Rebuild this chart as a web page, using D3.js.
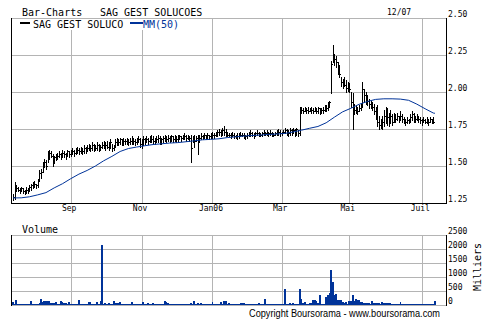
<!DOCTYPE html>
<html>
<head>
<meta charset="utf-8">
<script src="https://cdn.jsdelivr.net/npm/d3@7"></script>
<style>
  body { margin: 0; background: #fff; }
  svg { display: block; }
</style>
</head>
<body>
<svg width="490" height="325"></svg>
<script>
// one bar per trading day, 13/07/2005 -> 12/07/2006 (Euronext closed days left out)
const firstDay = "2005-07-13", lastDay = "2006-07-12";
const holidays = ["2005-12-26", "2006-04-14", "2006-04-17", "2006-05-01"];

const monthTicks = ["2005-09", "2005-11", "2006-01", "2006-03", "2006-05", "2006-07"];
const monthLabels = ["Sep", "Nov", "Jan06", "Mar", "Mai", "Juil"];
const priceTicks = [1.25, 1.5, 1.75, 2.0, 2.25, 2.5];
const volTicks = [0, 500, 1000, 1500, 2000, 2500];

const high = [
	1.31,1.39,1.37,1.36,1.35,1.36,1.35,1.34,1.36,1.35,
	1.37,1.38,1.39,1.40,1.38,1.41,1.47,1.48,1.53,1.55,
	1.54,1.60,1.61,1.60,1.58,1.57,1.58,1.59,1.60,1.59,
	1.61,1.60,1.59,1.61,1.60,1.61,1.62,1.61,1.62,1.63,
	1.62,1.63,1.62,1.64,1.63,1.64,1.65,1.64,1.66,1.65,
	1.64,1.66,1.65,1.64,1.66,1.67,1.66,1.67,1.66,1.68,
	1.65,1.64,1.68,1.69,1.68,1.69,1.68,1.69,1.68,1.69,
	1.68,1.69,1.70,1.69,1.68,1.69,1.70,1.69,1.68,1.70,
	1.69,1.70,1.69,1.70,1.71,1.70,1.69,1.70,1.71,1.70,
	1.69,1.70,1.71,1.70,1.71,1.70,1.71,1.70,1.71,1.70,
	1.71,1.71,1.70,1.71,1.72,1.71,1.71,1.70,1.71,1.70,
	1.71,1.70,1.71,1.71,1.72,1.71,1.72,1.71,1.72,1.71,
	1.72,1.73,1.72,1.73,1.74,1.75,1.74,1.76,1.77,1.75,
	1.73,1.72,1.72,1.73,1.72,1.71,1.72,1.72,1.73,1.72,
	1.72,1.71,1.72,1.73,1.74,1.73,1.72,1.73,1.74,1.73,
	1.72,1.73,1.74,1.73,1.74,1.73,1.74,1.73,1.72,1.73,
	1.74,1.75,1.74,1.73,1.74,1.76,1.75,1.74,1.76,1.75,
	1.76,1.75,1.76,1.74,1.90,1.90,1.89,1.90,1.89,1.90,
	1.89,1.90,1.89,1.90,1.89,1.90,1.89,1.89,1.90,1.91,
	1.91,1.93,1.94,2.21,2.32,2.26,2.24,2.20,2.18,2.10,
	2.09,2.10,2.08,2.07,2.06,2.00,1.99,1.92,1.91,1.90,
	1.91,1.92,2.07,2.02,2.00,1.98,1.95,1.94,1.93,1.92,
	1.90,1.91,1.84,1.82,1.84,1.88,1.90,1.89,1.86,1.88,
	1.85,1.86,1.85,1.86,1.84,1.87,1.85,1.83,1.82,1.83,
	1.82,1.85,1.87,1.86,1.84,1.85,1.84,1.83,1.82,1.83,
	1.82,1.83,1.82,1.83,1.82,1.83,1.80
];
const low = [
	1.27,1.28,1.33,1.33,1.32,1.33,1.32,1.31,1.32,1.32,
	1.33,1.34,1.35,1.36,1.35,1.36,1.40,1.42,1.46,1.49,
	1.48,1.53,1.55,1.56,1.50,1.52,1.54,1.55,1.56,1.55,
	1.56,1.56,1.55,1.57,1.56,1.57,1.58,1.57,1.58,1.59,
	1.58,1.59,1.58,1.59,1.59,1.60,1.61,1.60,1.61,1.60,
	1.61,1.61,1.60,1.61,1.62,1.62,1.61,1.62,1.61,1.62,
	1.60,1.61,1.63,1.64,1.64,1.65,1.64,1.64,1.65,1.65,
	1.64,1.65,1.65,1.65,1.64,1.65,1.66,1.63,1.62,1.65,
	1.65,1.66,1.65,1.66,1.66,1.65,1.65,1.66,1.66,1.65,
	1.65,1.66,1.67,1.66,1.67,1.66,1.67,1.66,1.67,1.66,
	1.67,1.68,1.67,1.68,1.68,1.67,1.68,1.67,1.53,1.66,
	1.63,1.67,1.58,1.66,1.68,1.68,1.69,1.68,1.69,1.68,
	1.69,1.69,1.69,1.70,1.70,1.71,1.70,1.71,1.71,1.70,
	1.70,1.70,1.69,1.70,1.69,1.69,1.68,1.69,1.70,1.70,
	1.69,1.68,1.69,1.70,1.70,1.70,1.69,1.70,1.71,1.70,
	1.70,1.70,1.71,1.71,1.71,1.70,1.71,1.70,1.70,1.71,
	1.71,1.71,1.70,1.71,1.72,1.72,1.71,1.70,1.71,1.71,
	1.72,1.70,1.71,1.70,1.71,1.86,1.86,1.87,1.86,1.86,
	1.87,1.86,1.86,1.87,1.86,1.86,1.85,1.86,1.86,1.87,
	1.87,1.88,1.90,1.99,2.20,2.18,2.17,2.12,2.10,2.04,
	2.03,2.04,2.00,2.01,2.00,1.90,1.75,1.85,1.86,1.85,
	1.87,1.88,1.90,1.93,1.92,1.91,1.89,1.89,1.88,1.85,
	1.82,1.77,1.75,1.76,1.75,1.77,1.79,1.78,1.77,1.79,
	1.78,1.80,1.80,1.81,1.80,1.81,1.80,1.79,1.78,1.79,
	1.79,1.80,1.81,1.80,1.80,1.81,1.80,1.79,1.78,1.80,
	1.79,1.79,1.78,1.80,1.79,1.79,1.74
];
const close = [
	1.29,1.36,1.35,1.34,1.33,1.35,1.33,1.33,1.34,1.33,
	1.36,1.37,1.36,1.38,1.37,1.40,1.45,1.46,1.52,1.53,
	1.50,1.58,1.59,1.57,1.53,1.56,1.57,1.57,1.58,1.57,
	1.59,1.58,1.57,1.60,1.58,1.59,1.60,1.59,1.61,1.61,
	1.60,1.62,1.60,1.62,1.61,1.62,1.63,1.62,1.64,1.63,
	1.62,1.64,1.62,1.63,1.64,1.65,1.64,1.63,1.64,1.66,
	1.62,1.63,1.66,1.67,1.66,1.68,1.66,1.67,1.67,1.68,
	1.66,1.67,1.68,1.67,1.66,1.68,1.68,1.65,1.64,1.68,
	1.67,1.68,1.67,1.69,1.68,1.67,1.68,1.68,1.69,1.67,
	1.68,1.69,1.69,1.68,1.69,1.68,1.70,1.68,1.69,1.68,
	1.69,1.70,1.69,1.70,1.70,1.69,1.70,1.69,1.62,1.68,
	1.67,1.69,1.66,1.69,1.70,1.70,1.71,1.70,1.71,1.70,
	1.71,1.71,1.71,1.72,1.73,1.73,1.72,1.74,1.73,1.72,
	1.71,1.71,1.70,1.71,1.70,1.70,1.70,1.71,1.71,1.71,
	1.70,1.70,1.71,1.72,1.72,1.71,1.71,1.72,1.72,1.71,
	1.71,1.72,1.73,1.72,1.73,1.72,1.72,1.71,1.71,1.72,
	1.73,1.73,1.72,1.72,1.73,1.74,1.73,1.72,1.74,1.73,
	1.74,1.72,1.75,1.72,1.88,1.88,1.87,1.88,1.88,1.87,
	1.88,1.88,1.87,1.88,1.87,1.89,1.87,1.88,1.88,1.89,
	1.89,1.92,1.93,2.19,2.25,2.22,2.20,2.14,2.12,2.07,
	2.06,2.05,2.03,2.04,2.02,1.93,1.90,1.88,1.89,1.87,
	1.89,1.90,2.02,1.98,1.95,1.94,1.92,1.91,1.90,1.87,
	1.84,1.80,1.78,1.79,1.80,1.84,1.85,1.83,1.81,1.84,
	1.80,1.83,1.82,1.84,1.82,1.84,1.82,1.81,1.80,1.81,
	1.80,1.83,1.85,1.83,1.82,1.83,1.82,1.81,1.80,1.81,
	1.80,1.81,1.80,1.82,1.81,1.80,1.76
];
// volume, thousands of shares
const volume = [
	95,40,180,40,35,35,35,30,35,35,
	40,145,35,30,35,35,85,215,120,145,
	130,145,140,70,60,70,110,40,40,145,
	120,80,70,40,110,40,30,30,35,35,
	180,50,45,40,35,35,110,110,35,30,
	35,95,35,145,2150,35,60,35,55,35,
	35,145,80,70,70,110,40,30,30,30,
	30,35,110,35,25,25,25,25,30,110,
	50,30,70,30,30,70,30,30,30,30,
	30,30,145,110,70,30,30,30,30,30,
	30,15,15,15,15,30,35,40,70,40,
	145,40,70,30,70,35,30,30,30,30,
	30,110,35,30,30,30,95,35,130,130,
	40,70,30,30,30,30,30,30,70,70,
	70,30,25,25,20,20,20,20,20,70,
	20,20,20,215,20,15,15,15,15,15,
	15,15,15,15,15,575,20,20,70,20,
	70,20,20,20,575,215,70,95,45,45,
	70,70,180,180,145,70,340,20,20,20,
	300,360,420,1260,830,360,385,180,180,180,
	110,70,110,40,145,145,340,145,215,180,
	180,110,95,55,70,70,70,45,145,70,
	70,70,70,45,110,70,70,70,55,70,
	30,30,30,30,30,110,30,25,25,25,
	25,25,25,25,25,25,25,25,25,25,
	25,25,25,25,25,25,145
];
// MM(50), every 5th session
const maDay = [0,5,10,15,20,25,30,35,40,45,50,55,60,65,70,75,80,85,90,95,100,
	105,110,115,120,125,130,135,140,145,150,155,160,165,170,175,180,185,190,195,
	200,205,210,215,220,225,230,235,240,245,250,255,256];
const maValue = [1.284,1.285,1.292,1.305,1.32,1.352,1.38,1.414,1.445,1.47,1.50,
	1.535,1.565,1.598,1.618,1.628,1.637,1.645,1.65,1.655,1.658,1.664,1.67,1.677,
	1.68,1.684,1.692,1.697,1.702,1.706,1.709,1.713,1.716,1.72,1.73,1.742,1.755,
	1.767,1.792,1.83,1.866,1.89,1.917,1.936,1.95,1.954,1.954,1.952,1.944,1.918,
	1.887,1.858,1.856];

const svg = d3.select("svg");
const L = 11, R = 446, PT = 18, PB = 203, VT = 235, VB = 305;
const blue = "#003399", grid = "#b4b4b4";
const mono = "DejaVu Sans Mono, monospace";

const fmt = d3.timeFormat("%Y-%m-%d");
const days = d3.timeDay.range(new Date(firstDay + "T12:00"), new Date(lastDay + "T13:00"))
	.filter(d => d.getDay() > 0 && d.getDay() < 6 && !holidays.includes(fmt(d)));
const tickIdx = monthTicks.map(m => days.findIndex(d => fmt(d).startsWith(m)));

const x = d3.scaleLinear().domain([-1.2, 262.7]).range([L, R]);
const y = d3.scaleLinear().domain([1.25, 2.5]).range([PB, PT]);
const yv = d3.scaleLinear().domain([0, 2500]).range([VB, VT]);
const px = i => Math.round(x(i)) + 0.5;

svg.append("rect").attr("width", 490).attr("height", 325).attr("fill", "#fff");

// gridlines
const g = svg.append("g").attr("stroke", grid).attr("shape-rendering", "crispEdges");
g.selectAll(".hp").data(priceTicks).join("line")
	.attr("x1", L).attr("x2", R)
	.attr("y1", d => Math.round(y(d)) + 0.5).attr("y2", d => Math.round(y(d)) + 0.5);
g.selectAll(".hv").data(volTicks).join("line")
	.attr("x1", L).attr("x2", R)
	.attr("y1", d => Math.round(yv(d)) + 0.5).attr("y2", d => Math.round(yv(d)) + 0.5);
tickIdx.forEach(i => {
	g.append("line").attr("x1", px(i)).attr("x2", px(i)).attr("y1", PT).attr("y2", PB);
	g.append("line").attr("x1", px(i)).attr("x2", px(i)).attr("y1", VT).attr("y2", VB);
});

// legend box hides the grid under it
svg.append("rect").attr("x", L + 1).attr("y", PT + 1).attr("width", 200).attr("height", 11).attr("fill", "#fff");

// price bars: high-low stroke with a one pixel close tick
const bars = svg.append("g").attr("stroke", "#000").attr("shape-rendering", "crispEdges");
days.forEach((d, i) => {
	bars.append("line").attr("x1", px(i)).attr("x2", px(i))
		.attr("y1", y(high[i])).attr("y2", y(low[i]) + 1);
	const yc = Math.round(y(close[i])) + 0.5;
	bars.append("line").attr("x1", px(i) + 0.5).attr("x2", px(i) + 1.5)
		.attr("y1", yc).attr("y2", yc);
});

// MM(50)
svg.append("path")
	.datum(maDay.map((d, k) => [d, maValue[k]]))
	.attr("fill", "none").attr("stroke", blue).attr("stroke-width", 1)
	.attr("d", d3.line().x(d => x(d[0])).y(d => y(d[1])));

// volume bars
const step = x(1) - x(0);
svg.append("g").attr("fill", blue).attr("shape-rendering", "crispEdges")
	.selectAll("rect").data(volume).join("rect")
	.attr("x", (d, i) => x(i) - step / 2)
	.attr("width", step + 0.2)
	.attr("y", d => Math.min(yv(d), VB - 1))
	.attr("height", d => Math.max(VB - yv(d), 1));

// frames
const frame = svg.append("g").attr("stroke", "#000").attr("shape-rendering", "crispEdges");
frame.append("path").attr("fill", "none").attr("d", `M${L + 0.5},${PT}V${PB + 0.5}H${R + 0.5}V${PT}`);
frame.append("path").attr("fill", "none").attr("d", `M${L + 0.5},${VT}V${VB + 0.5}M${R + 0.5},${VB + 0.5}V${VT}`);

// axes
const pAxis = svg.append("g").attr("transform", `translate(${R},0)`)
	.call(d3.axisRight(y).tickValues(priceTicks).tickSize(0).tickPadding(2).tickFormat(d3.format(".2f")));
const vAxis = svg.append("g").attr("transform", `translate(${R},0)`)
	.call(d3.axisRight(yv).tickValues(volTicks).tickSize(0).tickPadding(2).tickFormat(d3.format("d")));
const xAxis = svg.append("g").attr("transform", `translate(0,${PB})`)
	.call(d3.axisBottom(x).tickValues(tickIdx).tickSize(0).tickFormat((d, k) => monthLabels[k]));
[pAxis, vAxis, xAxis].forEach(a => {
	a.select(".domain").remove();
	a.attr("font-family", mono).attr("font-size", 8);
});
pAxis.selectAll("text").attr("dy", null).attr("y", -2);
vAxis.selectAll("text").attr("dy", null).attr("y", -2);
xAxis.selectAll("text").attr("dy", null).attr("y", 8).attr("x", -2);

// titles and legend
const label = (t, xx, yy, size, fill) => svg.append("text").attr("x", xx).attr("y", yy)
	.attr("font-family", mono).attr("font-size", size).attr("fill", fill || "#000").text(t);
label("Bar-Charts", 22, 16, 10);
label("SAG GEST SOLUCOES", 100, 16, 10);
label("12/07", 387, 15, 8);
svg.append("line").attr("x1", 20).attr("x2", 30).attr("y1", 23).attr("y2", 23)
	.attr("stroke", "#000").attr("stroke-width", 2);
label("SAG GEST SOLUCO", 33, 28, 10);
svg.append("line").attr("x1", 130).attr("x2", 143).attr("y1", 23).attr("y2", 23)
	.attr("stroke", blue).attr("stroke-width", 2);
label("MM(50)", 143, 28, 10, blue);
label("Volume", 22, 233, 10);
svg.append("text").attr("transform", "translate(481,267) rotate(-90)")
	.attr("font-family", mono).attr("text-anchor", "middle").attr("font-size", 10).text("Milliers");
svg.append("text").attr("x", 249).attr("y", 317)
	.attr("font-family", "Liberation Sans, Arial, sans-serif").attr("font-size", 10)
	.attr("textLength", 191).attr("lengthAdjust", "spacingAndGlyphs")
	.text("Copyright Boursorama - www.boursorama.com");
</script>
</body>
</html>
